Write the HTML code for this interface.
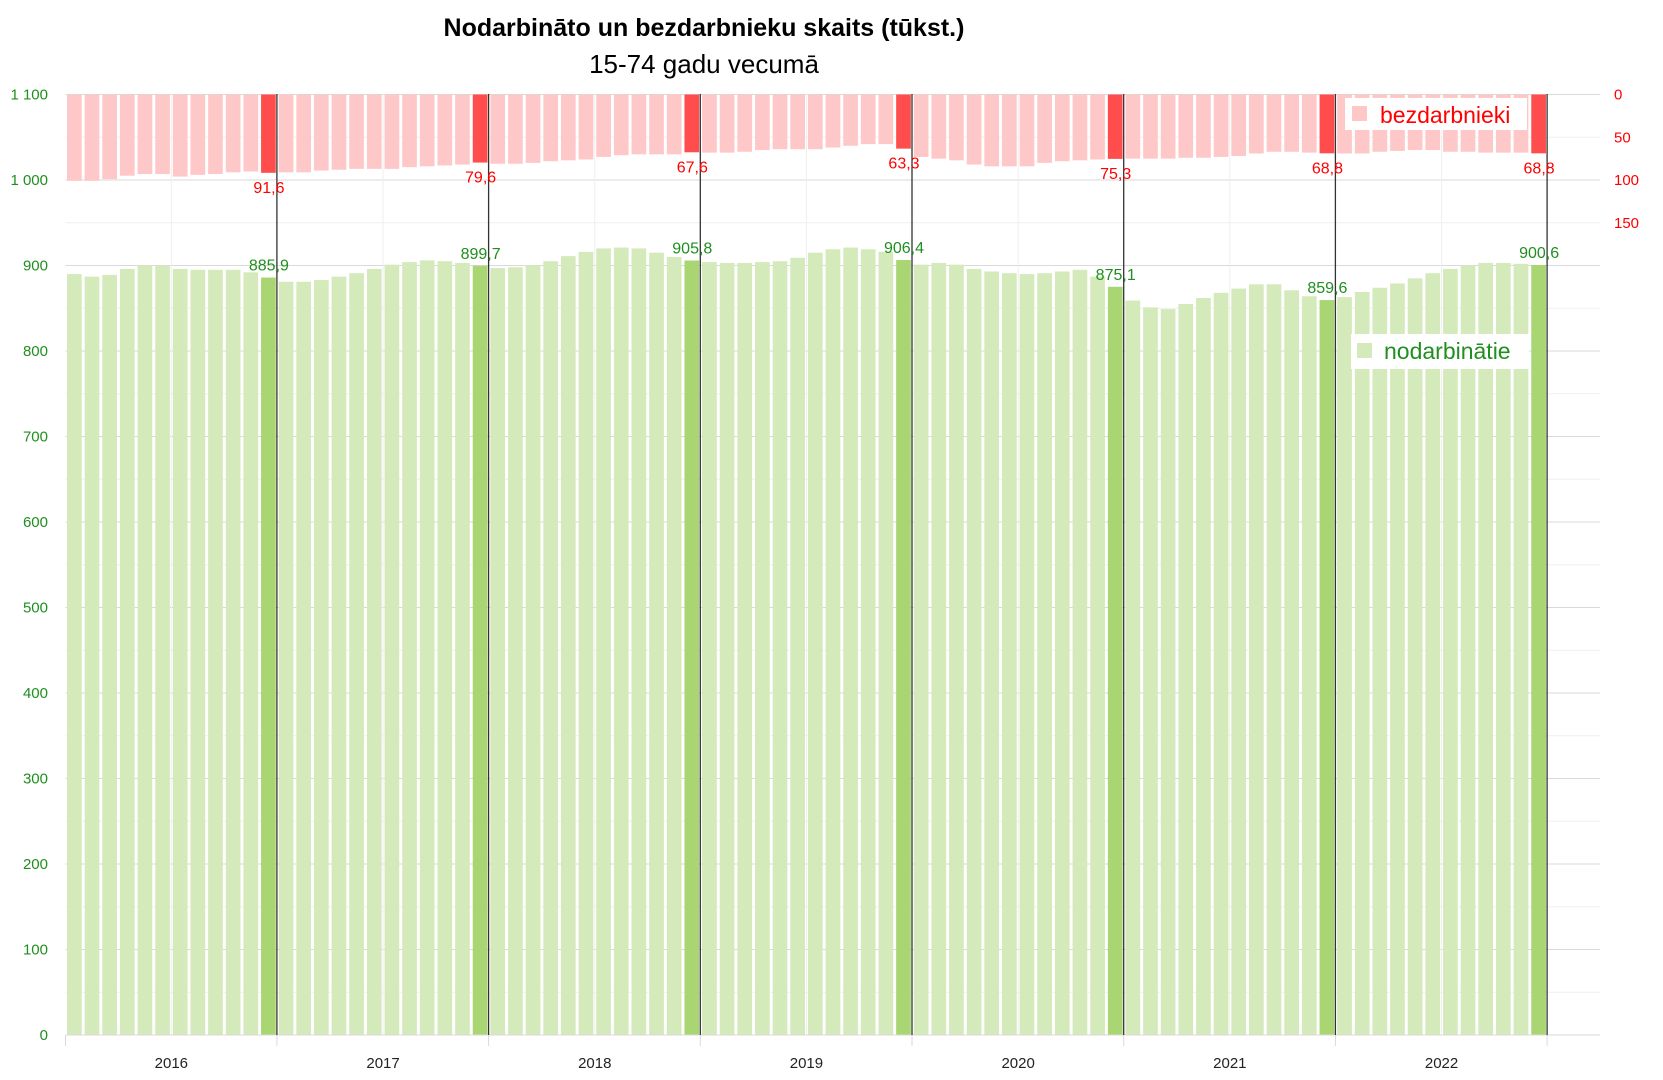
<!DOCTYPE html>
<html><head><meta charset="utf-8"><style>
body{margin:0;background:#fff}
svg{display:block}
text{font-family:"Liberation Sans",sans-serif}
</style></head><body>
<svg id="s" width="1663" height="1080" xmlns="http://www.w3.org/2000/svg">
<text x="704" y="36" text-anchor="middle" font-size="25" font-weight="bold" fill="#000">Nodarbināto un bezdarbnieku skaits (tūkst.)</text>
<text x="704" y="73" text-anchor="middle" font-size="26" fill="#000">15-74 gadu vecumā</text>
<g id="g"></g>
</svg>
<script>
var emp=[890,887,889,896,900,900,896,895,895,895,892,885.9,
881,881,883,887,891,896,901,904,906,905,903,899.7,
897,898,900,905,911,916,920,921,920,915,910,905.8,
904,903,903,904,905,909,915,919,921,919,916,906.4,
901,903,901,896,893,891,890,891,893,895,887,875.1,
859,851,849,855,862,868,873,878,878,871,864,859.6,
863,869,874,879,885,891,896,900,903,903,902,900.6];
var un=[101,101,99,95,93,93,96,94,93,91,90,91.6,
91,91,89,88,87,87,87,85,84,83,82,79.6,
81,81,80,78,77,76,73,71,70,70,70,67.6,
68,68,67,65,64,64,64,62,60,58,58,63.3,
73,75,77,82,84,84,84,80,78,77,76,75.3,
75,75,75,74,74,73,72,69,67,67,68,68.8,
69,69,67,66,65,65,67,67,68,68,68,68.8];
var L=65.5,Y0=1035,K=0.855,P=211.7/12,R=1600,s='';
function y(v){return Y0-v*K}
for(var v=50;v<=1100;v+=50){var major=v%100==0;s+='<line x1="'+L+'" x2="'+R+'" y1="'+y(v)+'" y2="'+y(v)+'" stroke="'+(major?'#d9d9d9':'#efefef')+'" stroke-width="1"/>';}
for(var k=0;k<7;k++){var mx=L+k*211.7+105.85;s+='<line x1="'+mx+'" x2="'+mx+'" y1="94" y2="'+Y0+'" stroke="#efefef"/>';}
for(var i=0;i<84;i++){var dec=i%12==11;var x=L+i*P+1.5,w=14.7;
s+='<rect x="'+x+'" y="'+y(emp[i])+'" width="'+w+'" height="'+(emp[i]*K)+'" fill="'+(dec?'#a9d672':'#d4eabb')+'"/>';
s+='<rect x="'+x+'" y="94.5" width="'+w+'" height="'+(un[i]*K)+'" fill="'+(dec?'#ff4d4d':'#ffc8c8')+'"/>';}
s+='<line x1="'+L+'" x2="'+R+'" y1="'+Y0+'" y2="'+Y0+'" stroke="#d9d9d9"/>';
s+='<line x1="'+L+'" x2="'+L+'" y1="'+Y0+'" y2="1046" stroke="#d9d9d9"/>';
for(var k=0;k<7;k++){var d=L+(k+1)*211.7-0.3;
s+='<line x1="'+d+'" x2="'+d+'" y1="94" y2="'+Y0+'" stroke="#333" stroke-width="1.3"/>';
s+='<line x1="'+d+'" x2="'+d+'" y1="'+Y0+'" y2="1046" stroke="#d9d9d9"/>';
var e=emp[k*12+11],u=un[k*12+11],cx=d-8;
s+='<text x="'+cx+'" y="'+(y(e)-7)+'" text-anchor="middle" font-size="16" fill="#1f8f1f">'+String(e.toFixed(1)).replace('.',',')+'</text>';
s+='<text x="'+cx+'" y="'+(94.5+u*K+20)+'" text-anchor="middle" font-size="16" fill="#ff0000">'+String(u.toFixed(1)).replace('.',',')+'</text>';
s+='<text x="'+(L+k*211.7+105.85)+'" y="1068" text-anchor="middle" font-size="15" fill="#222">'+(2016+k)+'</text>';}
for(var v=0;v<=1100;v+=100){var t=v>=1000?(Math.floor(v/1000)+' '+String(v%1000).padStart(3,'0')):String(v);
s+='<text x="48" y="'+(y(v)+5)+'" text-anchor="end" font-size="15" fill="#1f8f1f">'+t+'</text>';}
var rl=[0,50,100,150];for(var j=0;j<4;j++){s+='<text x="1614" y="'+(94.5+rl[j]*K+5)+'" font-size="15" fill="#ff0000">'+rl[j]+'</text>';}
s+='<rect x="1345" y="98" width="182" height="32" fill="#fff"/><rect x="1352" y="106" width="15" height="15" fill="#ffc8c8"/><text x="1380" y="123" font-size="23" fill="#ff0000">bezdarbnieki</text>';
s+='<rect x="1351" y="334" width="178" height="35" fill="#fff"/><rect x="1357" y="343" width="15" height="15" fill="#d4eabb"/><text x="1384" y="359" font-size="23" fill="#1f8f1f">nodarbinātie</text>';
document.getElementById('g').innerHTML=s;
</script>
</body></html>
